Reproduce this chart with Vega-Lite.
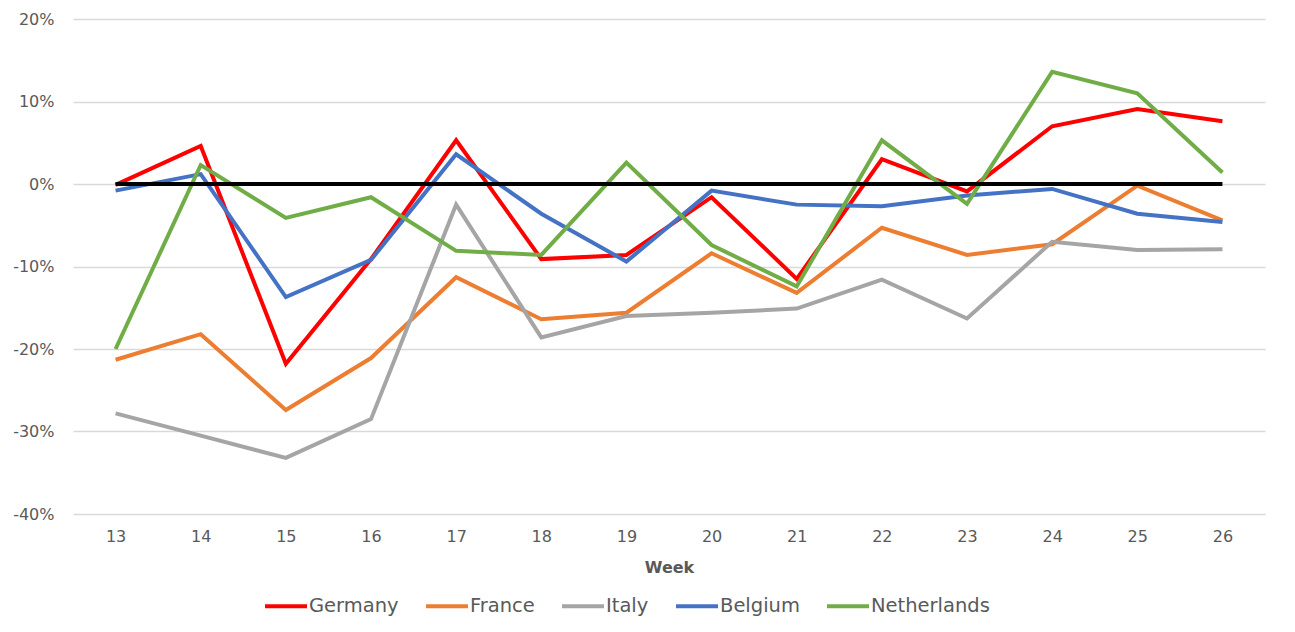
{
  "$schema": "https://vega.github.io/schema/vega-lite/v6.json",
  "width": 1192,
  "height": 495,
  "autosize": "none",
  "padding": {"left": 73, "top": 19, "right": 30, "bottom": 118},
  "background": "white",
  "config": {
    "view": {"stroke": null},
    "font": "DejaVu Sans"
  },
  "datasets": {
    "series": [
      {"week": "13", "country": "Germany", "value": -0.001},
      {"week": "14", "country": "Germany", "value": 0.046},
      {"week": "15", "country": "Germany", "value": -0.218},
      {"week": "16", "country": "Germany", "value": -0.091},
      {"week": "17", "country": "Germany", "value": 0.053},
      {"week": "18", "country": "Germany", "value": -0.091},
      {"week": "19", "country": "Germany", "value": -0.086},
      {"week": "20", "country": "Germany", "value": -0.016},
      {"week": "21", "country": "Germany", "value": -0.115},
      {"week": "22", "country": "Germany", "value": 0.030},
      {"week": "23", "country": "Germany", "value": -0.009},
      {"week": "24", "country": "Germany", "value": 0.070},
      {"week": "25", "country": "Germany", "value": 0.091},
      {"week": "26", "country": "Germany", "value": 0.076},
      {"week": "13", "country": "France", "value": -0.213},
      {"week": "14", "country": "France", "value": -0.182},
      {"week": "15", "country": "France", "value": -0.274},
      {"week": "16", "country": "France", "value": -0.211},
      {"week": "17", "country": "France", "value": -0.113},
      {"week": "18", "country": "France", "value": -0.164},
      {"week": "19", "country": "France", "value": -0.156},
      {"week": "20", "country": "France", "value": -0.084},
      {"week": "21", "country": "France", "value": -0.132},
      {"week": "22", "country": "France", "value": -0.053},
      {"week": "23", "country": "France", "value": -0.086},
      {"week": "24", "country": "France", "value": -0.073},
      {"week": "25", "country": "France", "value": -0.002},
      {"week": "26", "country": "France", "value": -0.044},
      {"week": "13", "country": "Italy", "value": -0.278},
      {"week": "14", "country": "Italy", "value": -0.305},
      {"week": "15", "country": "Italy", "value": -0.332},
      {"week": "16", "country": "Italy", "value": -0.285},
      {"week": "17", "country": "Italy", "value": -0.025},
      {"week": "18", "country": "Italy", "value": -0.186},
      {"week": "19", "country": "Italy", "value": -0.160},
      {"week": "20", "country": "Italy", "value": -0.156},
      {"week": "21", "country": "Italy", "value": -0.151},
      {"week": "22", "country": "Italy", "value": -0.116},
      {"week": "23", "country": "Italy", "value": -0.163},
      {"week": "24", "country": "Italy", "value": -0.070},
      {"week": "25", "country": "Italy", "value": -0.080},
      {"week": "26", "country": "Italy", "value": -0.079},
      {"week": "13", "country": "Belgium", "value": -0.008},
      {"week": "14", "country": "Belgium", "value": 0.012},
      {"week": "15", "country": "Belgium", "value": -0.137},
      {"week": "16", "country": "Belgium", "value": -0.092},
      {"week": "17", "country": "Belgium", "value": 0.036},
      {"week": "18", "country": "Belgium", "value": -0.036},
      {"week": "19", "country": "Belgium", "value": -0.094},
      {"week": "20", "country": "Belgium", "value": -0.008},
      {"week": "21", "country": "Belgium", "value": -0.025},
      {"week": "22", "country": "Belgium", "value": -0.027},
      {"week": "23", "country": "Belgium", "value": -0.014},
      {"week": "24", "country": "Belgium", "value": -0.006},
      {"week": "25", "country": "Belgium", "value": -0.036},
      {"week": "26", "country": "Belgium", "value": -0.046},
      {"week": "13", "country": "Netherlands", "value": -0.200},
      {"week": "14", "country": "Netherlands", "value": 0.023},
      {"week": "15", "country": "Netherlands", "value": -0.041},
      {"week": "16", "country": "Netherlands", "value": -0.016},
      {"week": "17", "country": "Netherlands", "value": -0.081},
      {"week": "18", "country": "Netherlands", "value": -0.086},
      {"week": "19", "country": "Netherlands", "value": 0.026},
      {"week": "20", "country": "Netherlands", "value": -0.074},
      {"week": "21", "country": "Netherlands", "value": -0.124},
      {"week": "22", "country": "Netherlands", "value": 0.053},
      {"week": "23", "country": "Netherlands", "value": -0.024},
      {"week": "24", "country": "Netherlands", "value": 0.136},
      {"week": "25", "country": "Netherlands", "value": 0.110},
      {"week": "26", "country": "Netherlands", "value": 0.014}
    ],
    "zero": [
      {"week": "13", "value": 0},
      {"week": "26", "value": 0}
    ]
  },
  "layer": [
    {
      "data": {"name": "series"},
      "mark": {"type": "line", "strokeWidth": 4, "strokeJoin": "miter"},
      "encoding": {
        "x": {
          "field": "week",
          "type": "ordinal",
          "scale": {"type": "point", "padding": 0.5},
          "axis": {
            "title": "Week",
            "labelAngle": 0,
            "labelFontSize": 16,
            "labelColor": "#595959",
            "labelPadding": 14,
            "domain": false,
            "ticks": false,
            "grid": false,
            "titleFontSize": 16,
            "titleFontWeight": "bold",
            "titleColor": "#595959",
            "titlePadding": 15
          }
        },
        "y": {
          "field": "value",
          "type": "quantitative",
          "scale": {"domain": [-0.4, 0.2], "nice": false, "zero": false},
          "axis": {
            "title": null,
            "values": [-0.4, -0.3, -0.2, -0.1, 0, 0.1, 0.2],
            "labelExpr": "replace(format(datum.value, '.0%'), '\u2212', '-')",
            "labelFontSize": 16,
            "labelColor": "#595959",
            "labelPadding": 19,
            "domain": false,
            "ticks": false,
            "grid": true,
            "gridColor": "#d9d9d9",
            "gridWidth": 1.5
          }
        },
        "color": {
          "field": "country",
          "type": "nominal",
          "sort": ["Germany", "France", "Italy", "Belgium", "Netherlands"],
          "scale": {
            "domain": ["Germany", "France", "Italy", "Belgium", "Netherlands"],
            "range": ["#FF0000", "#ED7D31", "#A5A5A5", "#4472C4", "#70AD47"]
          },
          "legend": {
            "title": null,
            "orient": "none",
            "direction": "horizontal",
            "legendX": 190,
            "legendY": 564,
            "padding": 0,
            "symbolType": "stroke",
            "symbolSize": 1764,
            "symbolStrokeWidth": 4,
            "labelFontSize": 19.5,
            "labelColor": "#595959",
            "labelOffset": 0,
            "columnPadding": 19
          }
        }
      }
    },
    {
      "data": {"name": "zero"},
      "mark": {"type": "line", "color": "black", "strokeWidth": 4},
      "encoding": {
        "x": {"field": "week", "type": "ordinal"},
        "y": {"field": "value", "type": "quantitative"}
      }
    }
  ]
}
